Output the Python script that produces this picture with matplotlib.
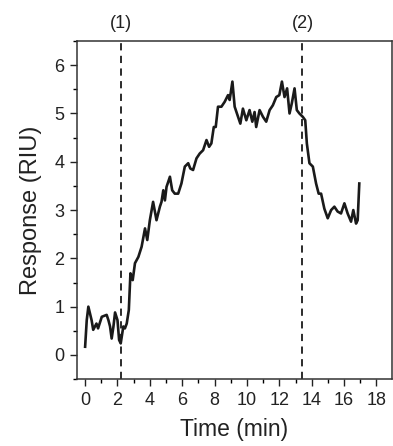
import matplotlib.pyplot as plt
from matplotlib.ticker import MultipleLocator

# response trace
tempo = [0.0, 0.1, 0.2, 0.4, 0.5, 0.7, 0.8, 1.03, 1.33, 1.44, 1.54, 1.64, 1.75,
         1.85, 2.0, 2.1, 2.2, 2.36, 2.46, 2.57, 2.7, 2.8, 2.94, 3.08, 3.29, 3.49,
         3.7, 3.84, 4.0, 4.2, 4.41, 4.62, 4.72, 4.83, 4.93, 5.03, 5.24, 5.38,
         5.54, 5.75, 5.95, 6.16, 6.37, 6.5, 6.67, 6.88, 7.08, 7.29, 7.5, 7.66,
         7.8, 7.95, 8.07, 8.21, 8.42, 8.62, 8.83, 8.93, 9.1, 9.24, 9.45, 9.59,
         9.75, 9.96, 10.16, 10.33, 10.47, 10.57, 10.78, 10.99, 11.19, 11.4,
         11.6, 11.81, 12.0, 12.16, 12.32, 12.48, 12.63, 12.77, 12.94, 13.08,
         13.24, 13.45, 13.6, 13.7, 13.86, 14.07, 14.27, 14.43, 14.58, 14.78,
         14.99, 15.2, 15.4, 15.6, 15.81, 16.02, 16.22, 16.43, 16.57, 16.74,
         16.84, 16.94]
resposta = [0.17, 0.72, 1.0, 0.72, 0.52, 0.65, 0.55, 0.79, 0.83, 0.72, 0.59,
            0.34, 0.59, 0.88, 0.72, 0.31, 0.24, 0.59, 0.55, 0.65, 0.93, 1.69,
            1.55, 1.9, 2.03, 2.24, 2.62, 2.38, 2.79, 3.17, 2.79, 3.07, 3.17,
            3.41, 3.2, 3.48, 3.69, 3.41, 3.34, 3.34, 3.55, 3.9, 3.97, 3.86,
            3.83, 4.07, 4.17, 4.24, 4.45, 4.31, 4.38, 4.72, 4.72, 5.14, 5.14,
            5.24, 5.38, 5.28, 5.66, 5.14, 4.93, 4.79, 5.1, 4.86, 5.07, 4.83,
            5.03, 4.72, 5.07, 4.93, 4.83, 5.07, 5.17, 5.34, 5.38, 5.66, 5.34,
            5.52, 5.0, 5.21, 5.52, 5.07, 5.0, 4.93, 4.86, 4.38, 3.97, 3.9,
            3.55, 3.34, 3.34, 3.03, 2.83, 3.0, 3.07, 2.97, 2.93, 3.14, 2.93,
            2.76, 3.0, 2.72, 2.79, 3.55]

eventos = [2.22, 13.43]
rotulos_eventos = ["(1)", "(2)"]

plt.rcParams["font.family"] = ["Liberation Sans", "DejaVu Sans"]

fig = plt.figure(figsize=(3.93, 4.46), dpi=100)
ax = fig.add_axes([0.196, 0.150, 0.801, 0.758])

ax.plot(tempo, resposta, color="#1a1a1a", linewidth=1.9)

for x, rot in zip(eventos, rotulos_eventos):
    ax.axvline(x, color="#1a1a1a", linestyle=(0, (4, 3)), linewidth=1.3)
    ax.text(x, 6.68, rot, ha="center", va="bottom", fontsize=13, color="#222222")

ax.set_xlim(-0.5, 18.95)
ax.set_ylim(-0.5, 6.5)
ax.xaxis.set_major_locator(MultipleLocator(2))
ax.xaxis.set_minor_locator(MultipleLocator(1))
ax.yaxis.set_major_locator(MultipleLocator(1))
ax.yaxis.set_minor_locator(MultipleLocator(0.5))

ax.tick_params(which="major", length=5, width=1, labelsize=13, colors="#222222", pad=4)
ax.tick_params(which="minor", length=3, width=1)
for s in ax.spines.values():
    s.set_linewidth(1.1)
    s.set_color("#333333")

ax.set_xlabel("Time (min)", fontsize=16.5, color="#222222", labelpad=7)
ax.set_ylabel("Response (RIU)", fontsize=17, color="#222222", labelpad=9)

fig.savefig("out.png", dpi=100)
